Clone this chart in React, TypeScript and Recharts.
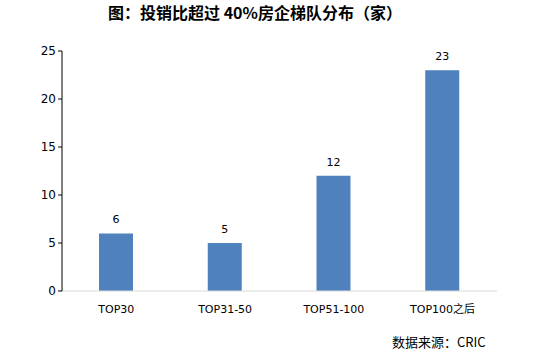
import { BarChart, Bar, XAxis, YAxis, LabelList } from "recharts";

// ── Data ─────────────────────────────────────────────────────────────────────

const categories = ["TOP30", "TOP31-50", "TOP51-100", "TOP100之后"];
const counts = [6, 5, 12, 23];
const yTicks = [0, 5, 10, 15, 20, 25];

const data = categories.map((name, i) => ({ name, count: counts[i] }));

const FONT = "Tahoma, 'DejaVu Sans', 'Noto Sans CJK SC', sans-serif";

// ── Main ──────────────────────────────────────────────────────────────────────

export default function App() {
  return (
    <div style={{ position: "absolute", left: 0, top: 0, width: 535, height: 355, background: "#fff" }}>
      <div
        style={{
          position: "absolute",
          top: 0,
          left: 0,
          width: 510,
          textAlign: "center",
          fontFamily: "'Noto Sans CJK SC', serif",
          fontWeight: 700,
          fontSize: 16,
          color: "#000",
        }}
      >
        图：投销比超过 40%房企梯队分布（家）
      </div>
      <BarChart
        width={535}
        height={355}
        data={data}
        margin={{ top: 51, right: 38, left: 22, bottom: 34 }}
        barCategoryGap={0}
      >
        <XAxis
          dataKey="name"
          tickLine={false}
          axisLine={{ stroke: "#d9d9d9" }}
          tick={{ fontSize: 11, fill: "#000", fontFamily: FONT }}
          tickMargin={8}
          height={30}
        />
        <YAxis
          domain={[0, 25]}
          ticks={yTicks}
          width={40}
          axisLine={{ stroke: "#000" }}
          tickLine={{ stroke: "#000" }}
          tickSize={4}
          tick={{ fontSize: 12, fill: "#000", fontFamily: FONT }}
        />
        <Bar dataKey="count" fill="#4f81bd" barSize={34} isAnimationActive={false}>
          <LabelList
            dataKey="count"
            position="top"
            offset={10}
            style={{ fontSize: 11, fill: "#000", fontFamily: FONT }}
          />
        </Bar>
      </BarChart>
      <div
        style={{
          position: "absolute",
          top: 332,
          left: 392,
          fontFamily: "'Noto Sans CJK SC', serif",
          fontSize: 13,
          color: "#000",
          whiteSpace: "nowrap",
        }}
      >
        数据来源：CRIC
      </div>
    </div>
  );
}
